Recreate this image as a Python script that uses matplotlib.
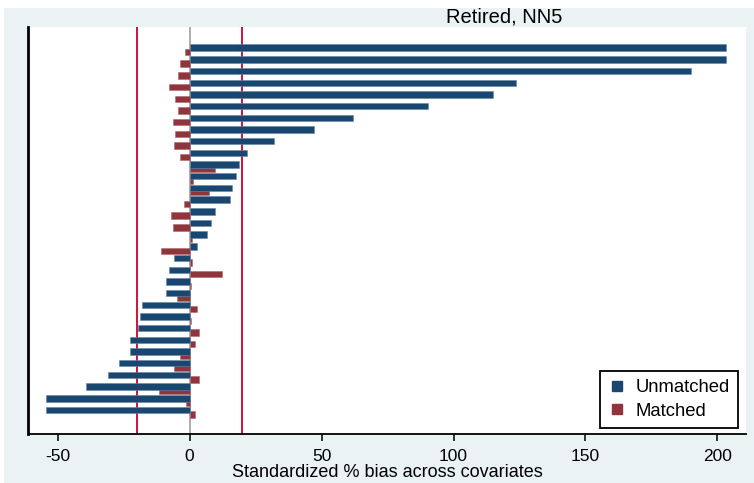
import matplotlib.pyplot as plt
import numpy as np
from matplotlib.lines import Line2D
from matplotlib.patches import Rectangle

plt.rcParams['font.family'] = ['Liberation Sans', 'DejaVu Sans']
plt.rcParams['axes.unicode_minus'] = False

# standardized % bias per covariate, top to bottom
unmatched = [203.3, 203.3, 190.1, 123.8, 115.1, 90.2, 61.9, 47.3, 32.0, 21.9,
             18.8, 17.5, 16.1, 15.3, 9.5, 8.2, 6.6, 2.9, -5.7, -7.8,
             -8.8, -8.8, -17.9, -18.8, -19.5, -22.4, -22.4, -26.8, -30.8, -39.1,
             -54.4, -54.4]
matched = [-1.8, -3.5, -4.2, -7.9, -5.5, -4.2, -6.2, -5.5, -5.7, -3.5,
           9.5, 1.3, 7.5, -2.0, -6.9, -6.4, 0.9, -10.8, 0.9, 12.2,
           0.7, -4.9, 2.9, 0.7, 3.6, 2.2, -3.5, -5.7, 3.6, -11.5,
           -1.3, 2.2]
xticks = [-50, 0, 50, 100, 150, 200]
threshold = 20

c_unm = '#1a476f'
c_mat = '#90353b'

fig = plt.figure(figsize=(7.54, 4.83), dpi=100, facecolor='white')
fig.patches.append(Rectangle((4 / 754, 0), 1, (483 - 8) / 483, transform=fig.transFigure,
                             facecolor='#eaf2f3', edgecolor='none', zorder=-10))

ax = fig.add_axes([28.5 / 754, (483 - 434) / 483, (746 - 28.5) / 754, (434 - 27) / 483])
ax.set_facecolor('white')

n = len(unmatched)
y = np.arange(n)[::-1].astype(float)

ax.axvline(0, color='#a0a0a0', lw=1.2, zorder=1)
for t in (-threshold, threshold):
    ax.axvline(t, color='#d0103a', lw=1.4, zorder=1)

ax.barh(y - 0.37, matched, height=0.55, color=c_mat, edgecolor='#b06a6f', lw=0.4, zorder=2)
ax.barh(y, unmatched, height=0.55, color=c_unm, edgecolor='#6688a8', lw=0.4, zorder=3)

ax.set_xlim(-61.0, 210.8)
ax.set_ylim(-2.05, 32.77)
ax.set_yticks([])
ax.set_xticks(xticks)
ax.tick_params(axis='x', length=5, width=1.1, pad=6, labelsize=12.5, colors='black')

for s in ('top', 'right'):
    ax.spines[s].set_visible(False)
ax.spines['left'].set_linewidth(2)
ax.spines['bottom'].set_linewidth(1.3)

ax.set_xlabel('Standardized % bias across covariates', fontsize=13, labelpad=-0.5)

fig.text(504 / 754, 1 - 17 / 483, 'Retired, NN5', ha='center', va='center', fontsize=14.5)

handles = [Line2D([], [], marker='s', ls='none', color=c_unm, markersize=7),
           Line2D([], [], marker='s', ls='none', color=c_mat, markersize=7)]
leg = ax.legend(handles, ['Unmatched', 'Matched'], loc='lower right',
                bbox_to_anchor=(0.989, 0.015), borderaxespad=0, fancybox=False,
                framealpha=1, edgecolor='black', fontsize=13.3, handletextpad=0.5,
                handlelength=1.0, borderpad=0.45, labelspacing=0.35)
leg.get_frame().set_linewidth(1.3)

fig.savefig('out.png', dpi=100)
